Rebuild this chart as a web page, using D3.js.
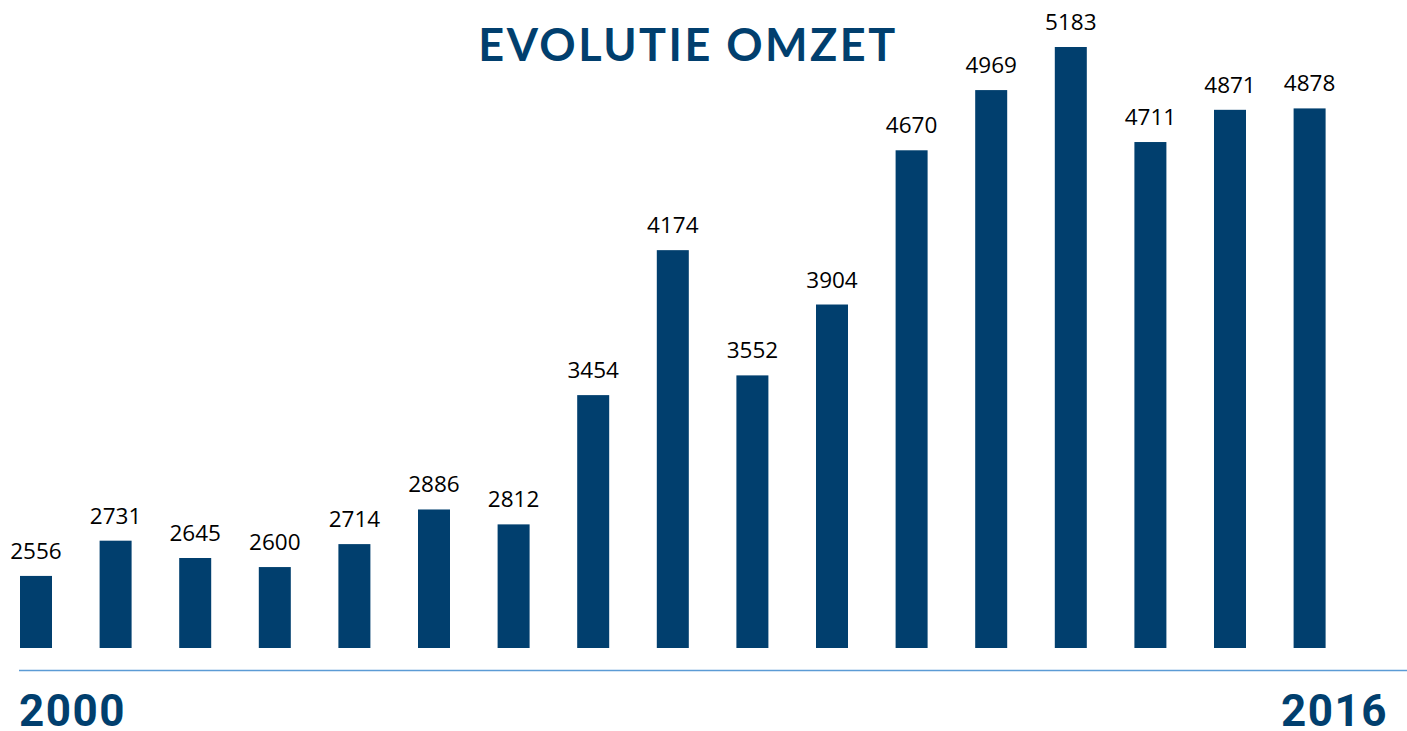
<!DOCTYPE html>
<html>
<head>
<meta charset="utf-8">
<script src="https://cdn.jsdelivr.net/npm/d3@7"></script>
<style>
  body { margin: 0; background: #fff; }
  svg { display: block; }
  .title { font-family: Lato, sans-serif; font-weight: 700; }
  .value { font-family: "Open Sans", sans-serif; }
  .year { font-family: Roboto, sans-serif; font-weight: 700; }
</style>
</head>
<body>
<svg width="1407" height="731"></svg>
<script>
const years = ['2000','2001','2002','2003','2004','2005','2006','2007','2008','2009','2010','2011','2012','2013','2014','2015','2016'];
const omzet = [2556, 2731, 2645, 2600, 2714, 2886, 2812, 3454, 4174, 3552, 3904, 4670, 4969, 5183, 4711, 4871, 4878];
const endLabels = ['2000', '2016'];

function whenLoaded(){
    const svg = d3.select('svg');
    const width = +svg.attr('width');

    const blue = '#013f6e';
    const data = years.map((y, i) => ({year: y, value: omzet[i]}));

    const xScale = d3.scaleBand()
        .domain(years)
        .range([20, 1325.6])
        .paddingInner(0.598)
        .paddingOuter(0);

    const yScale = d3.scaleLinear()
        .domain([2198, 5183])
        .range([648, 47]);

    svg.selectAll('rect.bar').data(data)
        .enter()
        .append('rect')
        .attr('class', 'bar')
        .attr('x', d => xScale(d.year))
        .attr('y', d => yScale(d.value))
        .attr('width', xScale.bandwidth())
        .attr('height', d => yScale.range()[0] - yScale(d.value))
        .attr('fill', blue);

    svg.selectAll('text.value').data(data)
        .enter()
        .append('text')
        .attr('class', 'value')
        .attr('x', d => xScale(d.year) + xScale.bandwidth()/2)
        .attr('y', d => yScale(d.value) - 17)
        .attr('text-anchor', 'middle')
        .attr('font-size', 22.5)
        .attr('fill', '#000')
        .text(d => d.value);

    // baseline
    svg.append('line')
        .attr('x1', 19).attr('x2', width)
        .attr('y1', 670.5).attr('y2', 670.5)
        .attr('stroke', '#5b9bd5')
        .attr('stroke-width', 1.5);

    svg.append('text')
        .attr('class', 'year')
        .attr('x', 19).attr('y', 726)
        .attr('font-size', 44)
        .attr('letter-spacing', 1.5)
        .attr('fill', blue)
        .text(endLabels[0]);

    svg.append('text')
        .attr('class', 'year')
        .attr('x', 1388).attr('y', 726)
        .attr('text-anchor', 'end')
        .attr('font-size', 44)
        .attr('letter-spacing', 1.5)
        .attr('fill', blue)
        .text(endLabels[1]);

    svg.append('text')
        .attr('class', 'title')
        .attr('x', 688).attr('y', 61)
        .attr('text-anchor', 'middle')
        .attr('font-size', 45)
        .attr('letter-spacing', 2.5)
        .attr('fill', blue)
        .text('EVOLUTIE OMZET');
}

window.onload = whenLoaded;
</script>
</body>
</html>
